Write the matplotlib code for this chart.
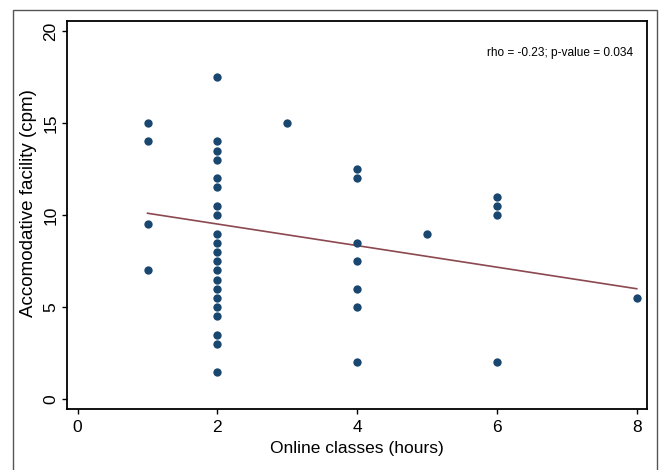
import matplotlib
matplotlib.use("Agg")
import matplotlib.pyplot as plt
from matplotlib.patches import Rectangle

# Data
hours_1 = [1, 1, 1, 1]
facility_1 = [15, 14, 9.5, 7]
hours_2 = [2] * 21
facility_2 = [17.5, 14, 13.5, 13, 12, 11.5, 10.5, 10, 9, 8.5, 8, 7.5, 7,
              6.5, 6, 5.5, 5, 4.5, 3.5, 3, 1.5]
hours_3 = [3]
facility_3 = [15]
hours_4 = [4] * 7
facility_4 = [12.5, 12, 8.5, 7.5, 6, 5, 2]
hours_5 = [5]
facility_5 = [9]
hours_6 = [6] * 4
facility_6 = [11, 10.5, 10, 2]
hours_8 = [8]
facility_8 = [5.5]

fit_x = [1, 8]
fit_y = [10.1, 6.0]

x_ticks = [0, 2, 4, 6, 8]
y_ticks = [0, 5, 10, 15, 20]
annotation = "rho = -0.23; p-value = 0.034"

x = hours_1 + hours_2 + hours_3 + hours_4 + hours_5 + hours_6 + hours_8
y = facility_1 + facility_2 + facility_3 + facility_4 + facility_5 + facility_6 + facility_8

REG = ["Liberation Sans", "DejaVu Sans"]

fig = plt.figure(figsize=(6.59, 4.70), dpi=100)
fig.patch.set_facecolor("white")

# outer frame
fig.patches.append(Rectangle((13 / 659, -0.02), (657 - 13) / 659, 0.02 + (470 - 10) / 470,
                             transform=fig.transFigure, fill=False,
                             edgecolor="#555555", linewidth=1.0, clip_on=False))

ax = fig.add_axes([66.7 / 659, (470 - 409) / 470, (647 - 66.7) / 659, (409 - 21) / 470])

ax.plot(fit_x, fit_y, color="#8c4850", linewidth=1.2, zorder=2)
ax.plot(x, y, linestyle="none", marker="o", markersize=6,
        color="#1a476f", markeredgewidth=0, zorder=3)

ax.set_xlim(-0.157, 8.147)
ax.set_ylim(-0.53, 20.54)

ax.set_xticks(x_ticks)
ax.set_xticklabels([str(t) for t in x_ticks], fontfamily=REG, fontsize=12.5)
ax.set_yticks(y_ticks)
ax.set_yticklabels([str(t) for t in y_ticks], fontfamily=REG, fontsize=12.5,
                   rotation=90, va="center")
ax.tick_params(axis="both", direction="out", length=3.6, width=1.0, color="black")
ax.tick_params(axis="x", pad=4)
ax.tick_params(axis="y", pad=2.5)

for side in ["top", "right", "left", "bottom"]:
    ax.spines[side].set_linewidth(1.3)
    ax.spines[side].set_color("black")

ax.set_xlabel("Online classes (hours)", fontfamily=REG, fontsize=12.5, labelpad=5)
ax.set_ylabel("Accomodative facility (cpm)", fontfamily=REG, fontsize=13.5)
ax.yaxis.set_label_coords(-0.052, 0.531)

ax.text(5.86, 18.8, annotation, fontfamily=REG, fontsize=8.6,
        ha="left", va="center", color="black")

fig.savefig("out.png", dpi=100, facecolor="white")
